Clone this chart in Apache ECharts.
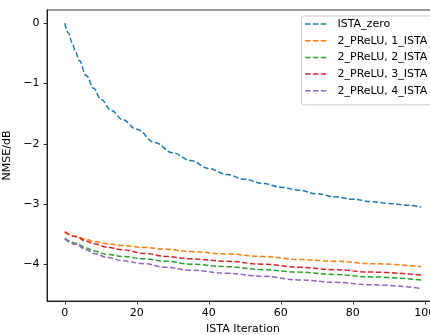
<!DOCTYPE html>
<html>
<head>
<meta charset="utf-8">
<script src="https://cdn.jsdelivr.net/npm/echarts@6/dist/echarts.min.js"></script>
<style>
  html, body { margin: 0; padding: 0; background: #fff; }
  #main { width: 430px; height: 335px; }
</style>
</head>
<body>
<div id="main"></div>
<script>
// 数据
var seriesNames = ['ISTA_zero', '2_PReLU, 1_ISTA', '2_PReLU, 2_ISTA', '2_PReLU, 3_ISTA', '2_PReLU, 4_ISTA'];

var iterZero = [0, 1, 2, 3, 4, 6, 8, 10, 13, 16, 20, 25, 30, 35, 40, 45, 50, 55, 60, 65, 70, 75, 80, 85, 90, 95, 99];
var nmseZero = [0, -0.16, -0.32, -0.48, -0.62, -0.87, -1.08, -1.26, -1.45, -1.60, -1.76, -1.98, -2.15, -2.28, -2.41, -2.51, -2.59, -2.66, -2.72, -2.77, -2.83, -2.88, -2.92, -2.96, -2.99, -3.02, -3.05];

var iterPrelu = [0, 3, 6, 8, 12, 16, 22, 28, 35, 45, 55, 65, 75, 85, 99];
var nmse1 = [-3.47, -3.54, -3.59, -3.62, -3.66, -3.69, -3.72, -3.75, -3.79, -3.83, -3.87, -3.92, -3.95, -3.99, -4.04];
var nmse2 = [-3.57, -3.65, -3.73, -3.78, -3.84, -3.87, -3.91, -3.95, -4.00, -4.04, -4.09, -4.13, -4.17, -4.21, -4.26];
var nmse3 = [-3.46, -3.54, -3.62, -3.66, -3.72, -3.76, -3.82, -3.87, -3.91, -3.95, -4.00, -4.05, -4.09, -4.13, -4.18];
var nmse4 = [-3.58, -3.67, -3.76, -3.82, -3.89, -3.94, -3.99, -4.05, -4.10, -4.15, -4.20, -4.26, -4.30, -4.34, -4.40];

var xTicks = [0, 20, 40, 60, 80, 100];
var yTicks = [-4, -3, -2, -1, 0];

var colors = ['#1f77b4', '#ff7f0e', '#2ca02c', '#d62728', '#9467bd'];
var font = 'DejaVu Sans';
var fs = 11;

function pairs(xs, ys) {
  return xs.map(function (x, i) { return [x, ys[i]]; });
}

var seriesData = [
  pairs(iterZero, nmseZero),
  pairs(iterPrelu, nmse1),
  pairs(iterPrelu, nmse2),
  pairs(iterPrelu, nmse3),
  pairs(iterPrelu, nmse4)
];

// 图例里的虚线（三段）
var dashIcon = 'path://M0,0h5.5v1.5h-5.5z M7.9,0h5.5v1.5h-5.5z M15.8,0h5.5v1.5h-5.5z';

var chart = echarts.init(document.getElementById('main'), null, { renderer: 'canvas' });

var axisLineStyle = { color: '#000', width: 0.8 };

var option = {
  animation: false,
  backgroundColor: '#fff',
  color: colors,
  grid: {
    left: 47, top: 10, width: 392, height: 291,
    outerBoundsMode: 'none',
    containLabel: false,
    show: true, borderColor: '#000', borderWidth: 0.8, backgroundColor: 'transparent'
  },
  legend: {
    orient: 'vertical',
    left: 301.5, top: 16,
    data: seriesNames.map(function (n) { return { name: n, icon: dashIcon }; }),
    itemWidth: 21.3, itemHeight: 1.5, itemGap: 4.7,
    padding: [2, 30, 8, 3.5],
    backgroundColor: 'rgba(255,255,255,0.8)',
    borderColor: '#cccccc', borderWidth: 1, borderRadius: 3,
    textStyle: { fontFamily: font, fontSize: fs, lineHeight: 12, color: '#000', padding: [0, 0, 0, 6.2] }
  },
  xAxis: {
    type: 'value',
    min: -4.95, max: 103.95,
    name: 'ISTA Iteration', nameLocation: 'middle', nameGap: 21,
    nameTextStyle: { fontFamily: font, fontSize: fs, color: '#000' },
    axisLine: { show: true, onZero: false, lineStyle: axisLineStyle },
    axisTick: { show: true, inside: false, length: 3.5, customValues: xTicks, lineStyle: axisLineStyle },
    axisLabel: { customValues: xTicks, margin: 6.5, fontFamily: font, fontSize: fs, color: '#000' },
    splitLine: { show: false }
  },
  yAxis: {
    type: 'value',
    min: -4.61, max: 0.22,
    name: 'NMSE/dB', nameLocation: 'middle', nameGap: 29,
    nameTextStyle: { fontFamily: font, fontSize: fs, color: '#000' },
    axisLine: { show: true, onZero: false, lineStyle: axisLineStyle },
    axisTick: { show: true, inside: false, length: 3.5, customValues: yTicks, lineStyle: axisLineStyle },
    axisLabel: {
      customValues: yTicks, margin: 7.5, fontFamily: font, fontSize: fs, color: '#000',
      formatter: function (v) { return String(v).replace('-', '\u2212'); }
    },
    splitLine: { show: false }
  },
  series: seriesNames.map(function (name, i) {
    return {
      name: name,
      type: 'line',
      data: seriesData[i],
      smooth: 0.4,
      smoothMonotone: 'x',
      symbol: 'none',
      lineStyle: { width: 1.5, type: [5.5, 2.4], color: colors[i] },
      itemStyle: { color: colors[i] },
      z: 2 + i
    };
  })
};

chart.setOption(option);
</script>
</body>
</html>
